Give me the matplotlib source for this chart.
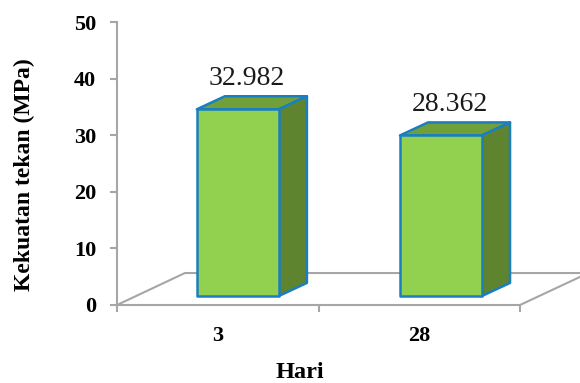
import matplotlib
matplotlib.use("Agg")
import matplotlib.pyplot as plt
from matplotlib.patches import Polygon

days = ["3", "28"]
strength = [32.982, 28.362]
y_ticks = [0, 10, 20, 30, 40, 50]

FRONT = "#92d050"
TOP = "#71a03a"
SIDE = "#5f8430"
EDGE = "#1a7fc0"
AXIS = "#a6a6a6"
SERIF = ["Liberation Serif", "DejaVu Serif"]

W, H = 580, 383
fig = plt.figure(figsize=(W / 100, H / 100), dpi=100)
ax = fig.add_axes([117 / W, 1 - 305 / H, 403 / W, 283 / H])
ax.set_xlim(0, len(days))
ax.set_ylim(y_ticks[0], y_ticks[-1])

# 3d look: everything is sheared by these offsets in data units
bar_w = 0.407
bar_shift = 0.1
bar_step = 1.008
lift = 1.6
depth_x, depth_y = 0.139, 2.3
floor_x, floor_y = 0.337, 5.65

# floor outline behind the bars
ax.plot([0, floor_x, 2 + 0.3], [0, floor_y, floor_y], color=AXIS, lw=1.5,
        clip_on=False, zorder=1)
ax.plot([2, 2 + 0.3], [0, 5], color=AXIS, lw=1.5, clip_on=False, zorder=1)

for i, (day, val) in enumerate(zip(days, strength)):
    x0 = 0.5 + i * bar_step + bar_shift - bar_w / 2
    x1 = x0 + bar_w
    y0 = lift
    y1 = lift + val
    faces = [
        ([(x0, y1), (x1, y1), (x1 + depth_x, y1 + depth_y), (x0 + depth_x, y1 + depth_y)], TOP),
        ([(x1, y0), (x1 + depth_x, y0 + depth_y), (x1 + depth_x, y1 + depth_y), (x1, y1)], SIDE),
        ([(x0, y0), (x1, y0), (x1, y1), (x0, y1)], FRONT),
    ]
    for pts, col in faces:
        ax.add_patch(Polygon(pts, closed=True, facecolor=col, edgecolor=EDGE,
                             lw=1.8, joinstyle="round", clip_on=False, zorder=3))
    ax.text(x0 + bar_w / 2 + depth_x * 0.33, y1 + depth_y + 3.15, f"{val:.3f}",
            ha="center", va="center", fontsize=20, family=SERIF, color="#1a1a1a")

for side in ["top", "right"]:
    ax.spines[side].set_visible(False)
for side in ["left", "bottom"]:
    ax.spines[side].set_color(AXIS)
    ax.spines[side].set_linewidth(1.5)

ax.set_yticks(y_ticks)
ax.set_yticklabels([str(t) for t in y_ticks], family=SERIF, fontweight="bold", fontsize=16)
ax.set_xticks(range(len(days) + 1))
ax.set_xticks([i + 0.5 for i in range(len(days))], minor=True)
ax.set_xticklabels([])
ax.set_xticklabels(days, minor=True, family=SERIF, fontweight="bold", fontsize=16)
ax.tick_params(axis="both", which="major", color=AXIS, width=1.5, length=5)
ax.tick_params(axis="y", pad=10)
ax.tick_params(axis="x", which="minor", length=0, pad=15)

fig.text(300 / W, 1 - 372 / H, "Hari", ha="center", va="center",
         family=SERIF, fontweight="bold", fontsize=17.5)
fig.text(24 / W, 1 - 175 / H, "Kekuatan tekan (MPa)", ha="center", va="center",
         rotation=90, family=SERIF, fontweight="bold", fontsize=17)

fig.savefig("out.png", dpi=100)
